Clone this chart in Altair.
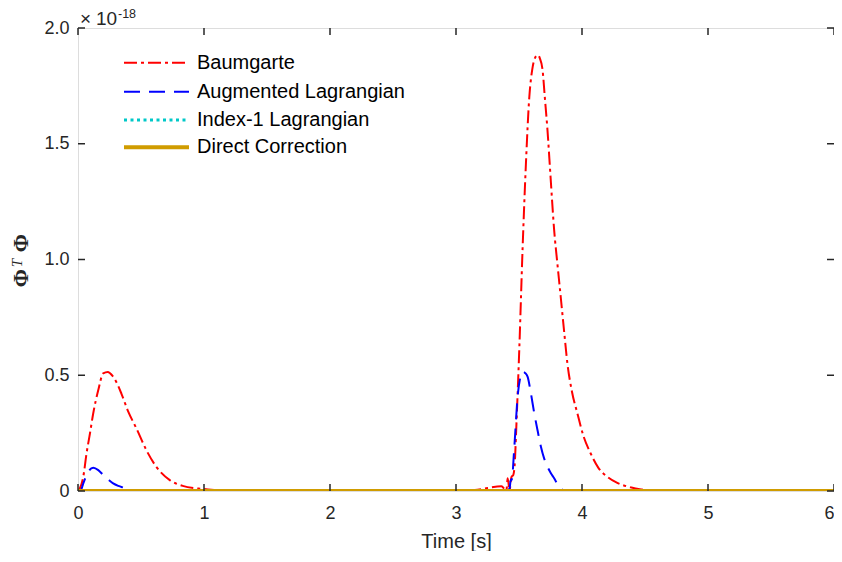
import altair as alt
import pandas as pd

# ---------------- data (values in units of 1e-18) ----------------
red_t = [0, 0.016, 0.042, 0.068, 0.095, 0.121, 0.161, 0.2, 0.237, 0.27, 0.30, 0.345, 0.397, 0.463,
         0.542, 0.621, 0.726, 0.831, 0.99, 1.1, 1.5, 2.5, 3.0, 3.15, 3.25, 3.36, 3.40, 3.41,
         3.425, 3.44, 3.455, 3.468, 3.476, 3.503, 3.529, 3.555, 3.582, 3.605, 3.621, 3.647,
         3.665, 3.687, 3.705, 3.726, 3.75, 3.779, 3.805, 3.831, 3.858, 3.884, 3.92, 3.963,
         4.01, 4.068, 4.13, 4.2, 4.28, 4.384, 4.47, 4.568, 4.7, 5.0, 6.0]
red_v = [0, 0.013, 0.062, 0.163, 0.249, 0.336, 0.436, 0.508, 0.514, 0.50, 0.475, 0.42, 0.345, 0.271,
         0.177, 0.105, 0.048, 0.022, 0.009, 0.004, 0.001, 0.0, 0.0, 0.004, 0.013, 0.02, 0.003, 0.055,
         0.004, 0.06, 0.07, 0.134, 0.24, 0.624, 1.055, 1.415, 1.703, 1.82, 1.862, 1.883,
         1.87, 1.819, 1.70, 1.559, 1.36, 1.127, 0.98, 0.839, 0.69, 0.552, 0.43, 0.336,
         0.24, 0.163, 0.10, 0.062, 0.035, 0.016, 0.007, 0.003, 0.001, 0.0, 0.0]

blue_t = [0, 0.02, 0.042, 0.081, 0.121, 0.161, 0.2, 0.24, 0.279, 0.32, 0.371, 0.42,
          0.5, 3.40, 3.425, 3.435, 3.442, 3.463, 3.489, 3.51, 3.529, 3.548, 3.568, 3.595, 3.621,
          3.648, 3.674, 3.70, 3.726, 3.752, 3.779, 3.80, 3.818, 3.835, 3.87, 6.0]
blue_v = [0, 0.0, 0.033, 0.083, 0.10, 0.09, 0.069, 0.05, 0.033, 0.022, 0.013, 0.003,
          0.0, 0.0, 0.01, 0.05, 0.048, 0.191, 0.407, 0.49, 0.515, 0.51, 0.494, 0.42, 0.336,
          0.26, 0.191, 0.14, 0.105, 0.078, 0.055, 0.035, 0.022, 0.01, 0.0, 0.0]

cyan_t = [0, 6]
cyan_v = [0, 0]
gold_t = [0, 6]
gold_v = [0, 0]

series_names = ["Baumgarte", "Augmented Lagrangian", "Index-1 Lagrangian", "Direct Correction"]
series_colors = ["#FF0000", "#0000FF", "#00C8C8", "#D09C00"]
series_dash = [[13, 4, 3, 4], [16, 9], [3, 3.5], [1, 0]]
series_width = [2, 2, 3, 4]

x_ticks = [0, 1, 2, 3, 4, 5, 6]
y_ticks = [0, 0.5, 1.0, 1.5, 2.0]

W, H = 756, 463
AX = "#262626"
FONT = "Liberation Sans"

xs = alt.Scale(domain=[0, 6], nice=False)
ys = alt.Scale(domain=[0, 2], nice=False)

x_axis = alt.Axis(values=x_ticks, title="Time [s]", grid=False, domain=False,
                  ticks=False, labelFontSize=18, labelColor=AX, labelFont=FONT,
                  labelPadding=13, labelFlush=False, labelExpr="format(datum.value, 'd')",
                  labelAlign={"condition": {"test": "datum.value == 6", "value": "right"},
                              "value": "center"},
                  titleFontSize=20, titleColor=AX, titleFont=FONT,
                  titleFontWeight="normal", titlePadding=9)
y_axis = alt.Axis(values=y_ticks, title=None, grid=False, domain=False, ticks=False,
                  labelFontSize=18, labelColor=AX, labelFont=FONT, labelPadding=9,
                  labelFlush=False,
                  labelExpr="datum.value == 0 ? '0' : format(datum.value, '.1f')")

def curve(t, v, i):
    df = pd.DataFrame({"t": t, "v": v})
    return alt.Chart(df).mark_line(
        color=series_colors[i], strokeDash=series_dash[i], strokeWidth=series_width[i],
        clip=True, interpolate="monotone"
    ).encode(
        x=alt.X("t:Q", scale=xs, axis=x_axis),
        y=alt.Y("v:Q", scale=ys, axis=y_axis),
    )

layers = [curve(red_t, red_v, 0), curve(blue_t, blue_v, 1),
          curve(cyan_t, cyan_v, 2), curve(gold_t, gold_v, 3)]

# inward ticks on all four sides
xt = pd.DataFrame({"t": x_ticks})
yt = pd.DataFrame({"v": y_ticks})
tick_style = dict(color=AX, strokeWidth=1.5)
layers += [
    alt.Chart(xt).mark_rule(**tick_style).encode(x=alt.X("t:Q", scale=xs, axis=x_axis), y=alt.value(H), y2=alt.value(H - 7)),
    alt.Chart(xt).mark_rule(**tick_style).encode(x=alt.X("t:Q", scale=xs, axis=x_axis), y=alt.value(0), y2=alt.value(7)),
    alt.Chart(yt).mark_rule(**tick_style).encode(y=alt.Y("v:Q", scale=ys, axis=y_axis), x=alt.value(0), x2=alt.value(7)),
    alt.Chart(yt).mark_rule(**tick_style).encode(y=alt.Y("v:Q", scale=ys, axis=y_axis), x=alt.value(W), x2=alt.value(W - 7)),
]

# legend
leg_y = [34.7, 63.7, 92.0, 119.3]
for i, name in enumerate(series_names):
    d = pd.DataFrame({"name": [name]})
    layers.append(alt.Chart(d).mark_rule(color=series_colors[i], strokeDash=series_dash[i],
                                         strokeWidth=series_width[i]).encode(
        x=alt.value(46), x2=alt.value(111), y=alt.value(leg_y[i])))
    layers.append(alt.Chart(d).mark_text(align="left", baseline="middle", fontSize=20,
                                         font=FONT, color="#000000").encode(
        x=alt.value(119), y=alt.value(leg_y[i]), text="name:N"))

# exponent label  (x10^-18)
layers.append(alt.Chart(pd.DataFrame({"s": ["×"]})).mark_text(
    align="left", baseline="middle", fontSize=19, font=FONT, color=AX).encode(
    x=alt.value(2), y=alt.value(-9), text="s:N"))
layers.append(alt.Chart(pd.DataFrame({"s": ["10"]})).mark_text(
    align="left", baseline="middle", fontSize=19, font=FONT, color=AX).encode(
    x=alt.value(18), y=alt.value(-9), text="s:N"))
layers.append(alt.Chart(pd.DataFrame({"s": ["-18"]})).mark_text(
    align="left", baseline="middle", fontSize=12.5, font=FONT, color=AX).encode(
    x=alt.value(40), y=alt.value(-14), text="s:N"))

# y-axis title  Phi^T Phi (rotated)
layers.append(alt.Chart(pd.DataFrame({"s": ["Φ"]})).mark_text(
    align="center", baseline="middle", fontSize=22, font="Liberation Serif", fontWeight="bold",
    angle=270, color=AX).encode(x=alt.value(-57), y=alt.value(250), text="s:N"))
layers.append(alt.Chart(pd.DataFrame({"s": ["T"]})).mark_text(
    align="center", baseline="middle", fontSize=15, font="Liberation Serif", fontStyle="italic",
    angle=270, color=AX).encode(x=alt.value(-61), y=alt.value(235), text="s:N"))
layers.append(alt.Chart(pd.DataFrame({"s": ["Φ"]})).mark_text(
    align="center", baseline="middle", fontSize=22, font="Liberation Serif", fontWeight="bold",
    angle=270, color=AX).encode(x=alt.value(-57), y=alt.value(215), text="s:N"))

chart = alt.layer(*layers).properties(
    width=W, height=H,
    autosize=alt.AutoSizeParams(type="none"),
    padding={"left": 70, "top": 20, "right": 0, "bottom": 60},
).configure_view(stroke=AX, strokeWidth=1.5).configure(background="white")

chart.save("out.html", embed_options={"renderer": "svg", "actions": False})
